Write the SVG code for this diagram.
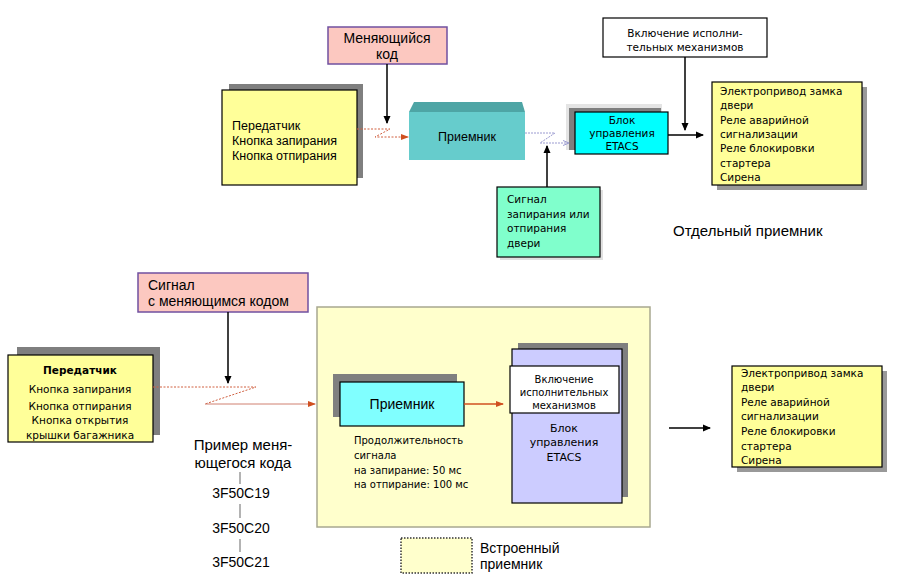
<svg xmlns="http://www.w3.org/2000/svg" width="902" height="588" viewBox="0 0 902 588">
<defs>
<marker id="ab" markerWidth="8" markerHeight="8" refX="7" refY="4" orient="auto" markerUnits="userSpaceOnUse"><path d="M0,0.5 L8,4 L0,7.5 z" fill="#000"/></marker>
<marker id="ar" markerWidth="8" markerHeight="8" refX="7" refY="4" orient="auto" markerUnits="userSpaceOnUse"><path d="M0,1 L8,4 L0,7 z" fill="#d05020"/></marker>
<marker id="ap" markerWidth="6" markerHeight="6" refX="5" refY="3" orient="auto" markerUnits="userSpaceOnUse"><path d="M0,0.5 L6,3 L0,5.5" fill="none" stroke="#9a9ad0"/></marker>
</defs>
<style>
.s{font-family:"Liberation Sans",Arial,sans-serif;fill:#000}
.v{font-family:"DejaVu Sans",Verdana,sans-serif;fill:#000}
.yel{fill:#ffff99;stroke:#000;stroke-width:1.2}
.sh{fill:#7f7f7f}
.pink{fill:#fcc8c0;stroke:#7050a0;stroke-width:1.5}
.blk{stroke:#000;stroke-width:1.5;fill:none}
.red{stroke:#d06040;stroke-width:1;fill:none;stroke-dasharray:2,1.5}
</style>
<rect width="902" height="588" fill="#fff"/>

<!-- TOP SECTION -->
<g id="code-top">
<rect class="pink" x="328" y="27" width="119" height="37"/>
<text class="s" font-size="14" text-anchor="middle" x="387" y="43">Меняющийся</text>
<text class="s" font-size="14" text-anchor="middle" x="387" y="59">код</text>
</g>
<g id="tx-top">
<rect class="sh" x="229" y="84" width="134" height="94"/>
<rect class="yel" x="222" y="90" width="135" height="95"/>
<text class="s" font-size="12.5" x="232" y="130">Передатчик</text>
<text class="s" font-size="12.5" x="232" y="145">Кнопка запирания</text>
<text class="s" font-size="12.5" x="232" y="160">Кнопка отпирания</text>
</g>
<g id="rx-top">
<polygon points="409,112 414,102 522,102 525,112" fill="#4ea5a5"/>
<rect x="409" y="112" width="116" height="48" fill="#66cccc"/>
<text class="s" font-size="12.5" text-anchor="middle" x="467" y="141">Приемник</text>
</g>
<g id="etacs-top">
<rect x="566" y="104" width="96" height="46" fill="#e4e4e4"/>
<rect class="sh" x="569" y="108" width="92" height="42"/>
<rect x="575" y="112" width="93" height="42" fill="#00ffff" stroke="#000" stroke-width="1.2"/>
<text class="v" font-size="10.5" text-anchor="middle" x="622" y="124">Блок</text>
<text class="v" font-size="10.5" text-anchor="middle" x="622" y="137">управления</text>
<text class="v" font-size="10.5" text-anchor="middle" x="622" y="150">ETACS</text>
</g>
<g id="act-top">
<rect x="603" y="18" width="164" height="39" fill="#fff" stroke="#000" stroke-width="1.2"/>
<text class="v" font-size="10.5" text-anchor="middle" x="685" y="37">Включение исполни-</text>
<text class="v" font-size="10.5" text-anchor="middle" x="685" y="51">тельных механизмов</text>
</g>
<g id="out-top">
<rect class="sh" x="717" y="87" width="150" height="103" opacity="0.8"/>
<rect class="yel" x="712" y="82" width="150" height="103"/>
<text class="v" font-size="10.5" x="720" y="95">Электропривод замка</text>
<text class="v" font-size="10.5" x="720" y="109">двери</text>
<text class="v" font-size="10.5" x="720" y="124">Реле аварийной</text>
<text class="v" font-size="10.5" x="720" y="138">сигнализации</text>
<text class="v" font-size="10.5" x="720" y="152">Реле блокировки</text>
<text class="v" font-size="10.5" x="720" y="167">стартера</text>
<text class="v" font-size="10.5" x="720" y="181">Сирена</text>
</g>
<g id="sig-top">
<rect x="500" y="190" width="103" height="70" fill="#cccccc" opacity="0.6"/>
<rect x="497" y="187" width="103" height="70" fill="#80ffcc" stroke="#000" stroke-width="1.2"/>
<text class="v" font-size="10.5" x="507" y="203">Сигнал</text>
<text class="v" font-size="10.5" x="507" y="218">запирания или</text>
<text class="v" font-size="10.5" x="507" y="232">отпирания</text>
<text class="v" font-size="10.5" x="507" y="247">двери</text>
</g>
<text class="s" font-size="15" x="673" y="236">Отдельный приемник</text>

<!-- BOTTOM SECTION -->
<g id="code-bottom">
<rect class="pink" x="138" y="273" width="170" height="39"/>
<text class="s" font-size="14" x="148" y="290">Сигнал</text>
<text class="s" font-size="14" x="148" y="306">с меняющимся кодом</text>
</g>
<g id="tx-bottom">
<rect class="sh" x="17" y="347" width="143" height="88"/>
<rect class="yel" x="8" y="355" width="145" height="87"/>
<text class="v" font-size="10.5" font-weight="bold" text-anchor="middle" x="80" y="374">Передатчик</text>
<text class="v" font-size="10.5" text-anchor="middle" x="80" y="393">Кнопка запирания</text>
<text class="v" font-size="10.5" text-anchor="middle" x="80" y="410">Кнопка отпирания</text>
<text class="v" font-size="10.5" text-anchor="middle" x="80" y="424">Кнопка открытия</text>
<text class="v" font-size="10.5" text-anchor="middle" x="80" y="439">крышки багажника</text>
</g>
<g id="builtin">
<rect x="317" y="307" width="333" height="220" fill="#ffffcc" stroke="#a8a890" stroke-width="1.5"/>
</g>
<g id="rx-bottom">
<rect class="sh" x="333" y="374" width="124" height="43"/>
<rect x="340" y="382" width="124" height="44" fill="#80ffff" stroke="#000" stroke-width="1.2"/>
<text class="s" font-size="14" text-anchor="middle" x="402" y="409">Приемник</text>
</g>
<g id="duration">
<text class="v" font-size="10" x="354" y="444">Продолжительность</text>
<text class="v" font-size="10" x="354" y="459">сигнала</text>
<text class="v" font-size="10" x="354" y="474">на запирание: 50 мс</text>
<text class="v" font-size="10" x="354" y="488">на отпирание: 100 мс</text>
</g>
<g id="etacs-bottom">
<rect class="sh" x="518" y="343" width="110" height="154"/>
<rect x="512" y="349" width="110" height="154" fill="#ccccff" stroke="#000" stroke-width="1.2"/>
<rect x="510" y="366" width="109" height="47" fill="#fff" stroke="#000" stroke-width="1.2"/>
<text class="v" font-size="10" text-anchor="middle" x="564" y="383">Включение</text>
<text class="v" font-size="10" text-anchor="middle" x="564" y="396">исполнительных</text>
<text class="v" font-size="10" text-anchor="middle" x="564" y="409">механизмов</text>
<text class="v" font-size="11" text-anchor="middle" x="564" y="432">Блок</text>
<text class="v" font-size="11" text-anchor="middle" x="564" y="446">управления</text>
<text class="v" font-size="11" text-anchor="middle" x="564" y="461">ETACS</text>
</g>
<g id="out-bottom">
<rect class="sh" x="737" y="371" width="150" height="101" opacity="0.8"/>
<rect class="yel" x="732" y="366" width="150" height="101"/>
<text class="v" font-size="10.5" x="741" y="377">Электропривод замка</text>
<text class="v" font-size="10.5" x="741" y="391">двери</text>
<text class="v" font-size="10.5" x="741" y="406">Реле аварийной</text>
<text class="v" font-size="10.5" x="741" y="420">сигнализации</text>
<text class="v" font-size="10.5" x="741" y="435">Реле блокировки</text>
<text class="v" font-size="10.5" x="741" y="450">стартера</text>
<text class="v" font-size="10.5" x="741" y="464">Сирена</text>
</g>
<g id="example">
<text class="s" font-size="15" text-anchor="middle" x="243" y="450">Пример меня-</text>
<text class="s" font-size="15" text-anchor="middle" x="243" y="468">ющегося кода</text>
<text class="s" font-size="14" text-anchor="middle" x="241" y="498">3F50C19</text>
<text class="s" font-size="14" text-anchor="middle" x="241" y="533">3F50C20</text>
<text class="s" font-size="14" text-anchor="middle" x="241" y="567">3F50C21</text>
</g>
<g id="legend">
<rect x="401" y="538" width="71" height="35" fill="#ffffcc" stroke="#333" stroke-width="1.5" stroke-dasharray="1.5,1.5"/>
<text class="s" font-size="14" x="480" y="553">Встроенный</text>
<text class="s" font-size="14" x="480" y="569">приемник</text>
</g>

<g id="connectors">
<!-- top -->
<line class="blk" x1="387" y1="64" x2="387" y2="123" marker-end="url(#ab)"/>
<polyline class="red" points="357,129 390,129 375,137 408,137" marker-end="url(#ar)"/>
<polyline points="525,133 555,133 540,143 568,143" fill="none" stroke="#9a9ad0" stroke-width="1" stroke-dasharray="2,1" marker-end="url(#ap)"/>
<line class="blk" x1="547" y1="187" x2="547" y2="146" marker-end="url(#ab)"/>
<line class="blk" x1="685" y1="57" x2="685" y2="130" marker-end="url(#ab)"/>
<line class="blk" x1="668" y1="135" x2="703" y2="135" marker-end="url(#ab)"/>
<!-- bottom -->
<line class="blk" x1="228" y1="312" x2="228" y2="383" marker-end="url(#ab)"/>
<polyline class="red" points="153,387 256,387 205,404" />
<line x1="205" y1="404" x2="315" y2="404" stroke="#d08070" stroke-width="1" marker-end="url(#ar)"/>
<line x1="464" y1="404" x2="503" y2="404" stroke="#d05020" stroke-width="1.5" marker-end="url(#ar)"/>
<line class="blk" x1="669" y1="428" x2="710" y2="428" marker-end="url(#ab)"/>
<line x1="240" y1="472" x2="240" y2="484" stroke="#000" stroke-width="0.6"/>
<line x1="240" y1="504" x2="240" y2="518" stroke="#000" stroke-width="0.6"/>
<line x1="240" y1="539" x2="240" y2="552" stroke="#000" stroke-width="0.6"/>
</g>
</svg>
